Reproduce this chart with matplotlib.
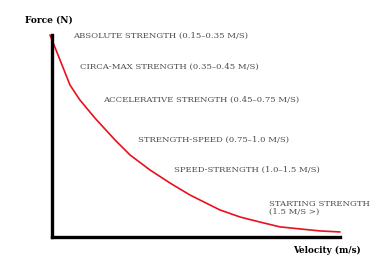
import matplotlib
matplotlib.use("Agg")
import matplotlib.pyplot as plt

# Force-velocity curve (normalised units)
velocity = [-0.007, 0.028, 0.0625, 0.097, 0.149, 0.219, 0.271, 0.340, 0.410, 0.479,
            0.514, 0.583, 0.653, 0.722, 0.792, 0.861, 0.931, 1.0]
force = [1.0, 0.876, 0.752, 0.678, 0.589, 0.480, 0.406, 0.332, 0.267, 0.208,
         0.183, 0.134, 0.099, 0.074, 0.050, 0.040, 0.030, 0.025]

zone_labels = [
    "ABSOLUTE STRENGTH (0.15\u20130.35 M/S)",
    "CIRCA-MAX STRENGTH (0.35\u20130.45 M/S)",
    "ACCELERATIVE STRENGTH (0.45\u20130.75 M/S)",
    "STRENGTH-SPEED (0.75\u20131.0 M/S)",
    "SPEED-STRENGTH (1.0\u20131.5 M/S)",
    "STARTING STRENGTH\n(1.5 M/S >)",
]
# label anchor positions (axes data units)
label_x = [0.073, 0.097, 0.177, 0.299, 0.424, 0.753]
label_y = [0.995, 0.842, 0.678, 0.48, 0.332, 0.145]

W, H = 389, 266
fig = plt.figure(figsize=(W / 100, H / 100), dpi=100)
ax = fig.add_axes([52 / W, (H - 237) / H, 288 / W, 202 / H])
ax.set_xlim(0, 1)
ax.set_ylim(0, 1)
for s in ["top", "right"]:
    ax.spines[s].set_visible(False)
for s in ["left", "bottom"]:
    ax.spines[s].set_linewidth(2.4)
    ax.spines[s].set_color("black")
ax.set_xticks([])
ax.set_yticks([])

ax.plot(velocity, force, color="#e8101c", lw=1.2, solid_capstyle="round",
        solid_joinstyle="round", clip_on=False)

for t, x, y in zip(zone_labels, label_x, label_y):
    ax.text(x, y, t, fontsize=6.1, family="DejaVu Serif", color="#4d4d4d",
            ha="left", va="center", linespacing=0.95)

fig.text(25 / W, 1 - 20 / H, "Force (N)", fontsize=6.5, family="DejaVu Serif",
         fontweight="bold", ha="left", va="center")
fig.text(293 / W, 1 - 250 / H, "Velocity (m/s)", fontsize=6.3, family="DejaVu Serif",
         fontweight="bold", ha="left", va="center")

fig.savefig("out.png", dpi=100)
